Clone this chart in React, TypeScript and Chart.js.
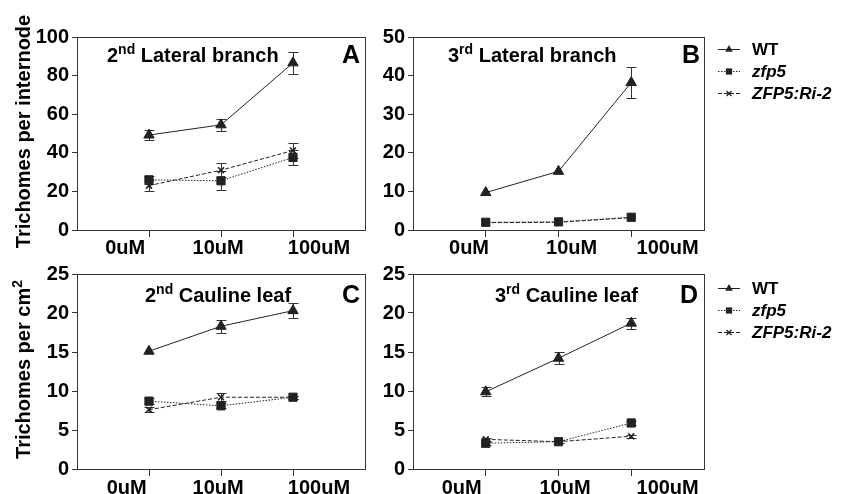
import React, { useEffect, useRef } from 'react';
import { Chart, registerables } from 'chart.js';
Chart.register(...registerables);

const FONT = '"Liberation Sans", Arial, Helvetica, sans-serif';
const INK = '#222';

// categories
const doseLabels = ['0uM', '10uM', '100uM'];
const doseX = [1, 2, 3];
const seriesNames = ['WT', 'zfp5', 'ZFP5:Ri-2'];

// Panel A: 2nd lateral branch
const aWT = [49.2, 54.5, 86.6];
const aWTErr = [2.8, 3.0, 5.6];
const aZfp5 = [26.0, 25.5, 37.6];
const aZfp5Err = [2.2, 5.0, 4.0];
const aRi = [23.0, 31.0, 41.2];
const aRiErr = [3.0, 3.5, 4.0];

// Panel B: 3rd lateral branch
const bWT = [9.7, 15.2, 38.2];
const bWTErr = [0, 0, 4.0];
const bZfp5 = [2.0, 2.1, 3.3];
const bZfp5Err = [0, 0, 0];
const bRi = [1.9, 2.0, 3.2];
const bRiErr = [0, 0, 0];

// Panel C: 2nd cauline leaf
const cWT = [15.1, 18.3, 20.3];
const cWTErr = [0, 0.8, 1.0];
const cZfp5 = [8.7, 8.1, 9.2];
const cZfp5Err = [0.4, 0.3, 0.2];
const cRi = [7.6, 9.2, 9.2];
const cRiErr = [0.3, 0.5, 0.2];

// Panel D: 3rd cauline leaf
const dWT = [9.9, 14.2, 18.7];
const dWTErr = [0.6, 0.8, 0.7];
const dZfp5 = [3.3, 3.5, 5.9];
const dZfp5Err = [0.2, 0.2, 0.3];
const dRi = [3.8, 3.5, 4.2];
const dRiErr = [0.2, 0.2, 0.2];

type Part = { t: string; sup?: boolean };

const styles = [
  { dash: [] as number[], point: 'triangle', radius: 6, bw: 1, italic: false },
  { dash: [1.5, 1.5], point: 'rect', radius: 5.8, bw: 1, italic: true },
  { dash: [4, 2], point: 'crossRot', radius: 4.2, bw: 1.6, italic: true },
];

type PanelCfg = {
  left: number; top: number; w: number; h: number;
  yAxisW: number; padTop: number; padRight: number; xAxisH: number;
  yMax: number; yStep: number;
  series: number[][]; errors: number[][];
  title: Part[]; titleX: number; titleBase: number;
  letter: string; letterRight: number;
  labelPos: number[]; labelBase: number;
  yTitle?: Part[];
  legend?: { x: number; ys: number[] };
};

const panels: PanelCfg[] = [
  {
    left: 0, top: 0, w: 380, h: 258, yAxisW: 77, padTop: 37, padRight: 15, xAxisH: 28,
    yMax: 100, yStep: 20,
    series: [aWT, aZfp5, aRi], errors: [aWTErr, aZfp5Err, aRiErr],
    title: [{ t: '2' }, { t: 'nd', sup: true }, { t: ' Lateral branch' }], titleX: 30, titleBase: 25,
    letter: 'A', letterRight: 5,
    labelPos: [0.67, 1.96, 3.36], labelBase: 24,
    yTitle: [{ t: 'Trichomes per internode' }],
  },
  {
    left: 380, top: 0, w: 472, h: 258, yAxisW: 33, padTop: 37, padRight: 148, xAxisH: 28,
    yMax: 50, yStep: 10,
    series: [bWT, bZfp5, bRi], errors: [bWTErr, bZfp5Err, bRiErr],
    title: [{ t: '3' }, { t: 'rd', sup: true }, { t: ' Lateral branch' }], titleX: 35, titleBase: 25,
    letter: 'B', letterRight: 4,
    labelPos: [0.77, 2.18, 3.5], labelBase: 24,
    legend: { x: 338, ys: [49, 71, 93] },
  },
  {
    left: 0, top: 258, w: 380, h: 236, yAxisW: 77, padTop: 16, padRight: 15, xAxisH: 25,
    yMax: 25, yStep: 5,
    series: [cWT, cZfp5, cRi], errors: [cWTErr, cZfp5Err, cRiErr],
    title: [{ t: '2' }, { t: 'nd', sup: true }, { t: ' Cauline leaf' }], titleX: 68, titleBase: 28,
    letter: 'C', letterRight: 5,
    labelPos: [0.69, 1.96, 3.36], labelBase: 25,
    yTitle: [{ t: 'Trichomes per cm' }, { t: '2', sup: true }],
  },
  {
    left: 380, top: 258, w: 472, h: 236, yAxisW: 33, padTop: 16, padRight: 148, xAxisH: 25,
    yMax: 25, yStep: 5,
    series: [dWT, dZfp5, dRi], errors: [dWTErr, dZfp5Err, dRiErr],
    title: [{ t: '3' }, { t: 'rd', sup: true }, { t: ' Cauline leaf' }], titleX: 82, titleBase: 28,
    letter: 'D', letterRight: 6,
    labelPos: [0.67, 2.09, 3.5], labelBase: 25,
    legend: { x: 338, ys: [30, 52, 74] },
  },
];

function richWidth(ctx: CanvasRenderingContext2D, parts: Part[], size: number) {
  let w = 0;
  for (const p of parts) {
    const s = p.sup ? Math.round(size * 0.68) : size;
    ctx.font = `bold ${s}px ${FONT}`;
    w += ctx.measureText(p.t).width;
  }
  return w;
}

function drawRich(ctx: CanvasRenderingContext2D, parts: Part[], x: number, y: number, size: number) {
  let cx = x;
  for (const p of parts) {
    const s = p.sup ? Math.round(size * 0.68) : size;
    ctx.font = `bold ${s}px ${FONT}`;
    ctx.fillText(p.t, cx, p.sup ? y - size * 0.42 : y);
    cx += ctx.measureText(p.t).width;
  }
}

function drawMarker(ctx: CanvasRenderingContext2D, kind: string, x: number, y: number, r: number) {
  ctx.beginPath();
  if (kind === 'triangle') {
    const h = r * 1.5;
    const half = r * 0.866;
    ctx.moveTo(x, y - r);
    ctx.lineTo(x + half, y - r + h);
    ctx.lineTo(x - half, y - r + h);
    ctx.closePath();
    ctx.fill();
  } else if (kind === 'rect') {
    const s = r * 0.707;
    ctx.rect(x - s, y - s, 2 * s, 2 * s);
    ctx.fill();
  } else {
    const s = r * 0.707;
    ctx.moveTo(x - s, y - s); ctx.lineTo(x + s, y + s);
    ctx.moveTo(x + s, y - s); ctx.lineTo(x - s, y + s);
    ctx.lineWidth = 1.3;
    ctx.stroke();
  }
}

function PanelChart({ cfg }: { cfg: PanelCfg }) {
  const ref = useRef<HTMLCanvasElement | null>(null);
  useEffect(() => {
    if (!ref.current) return;
    const decor = {
      id: 'decor',
      beforeDatasetsDraw(chart: any) {
        const ctx = chart.ctx as CanvasRenderingContext2D;
        const xs = chart.scales.x, ys = chart.scales.y;
        ctx.save();
        ctx.strokeStyle = '#333';
        ctx.lineWidth = 1;
        cfg.series.forEach((vals, i) => {
          vals.forEach((v, j) => {
            const e = cfg.errors[i][j];
            if (!e) return;
            const X = Math.round(xs.getPixelForValue(doseX[j])) + 0.5;
            const t = Math.round(ys.getPixelForValue(v + e)) + 0.5;
            const b = Math.round(ys.getPixelForValue(Math.max(0, v - e))) + 0.5;
            ctx.beginPath();
            ctx.moveTo(X, t); ctx.lineTo(X, b);
            ctx.moveTo(X - 5, t); ctx.lineTo(X + 5, t);
            ctx.moveTo(X - 5, b); ctx.lineTo(X + 5, b);
            ctx.stroke();
          });
        });
        ctx.restore();
      },
      afterDraw(chart: any) {
        const ctx = chart.ctx as CanvasRenderingContext2D;
        const ca = chart.chartArea;
        const xs = chart.scales.x;
        ctx.save();
        // frame
        ctx.strokeStyle = '#333';
        ctx.lineWidth = 1;
        ctx.strokeRect(Math.round(ca.left) + 0.5, Math.round(ca.top) + 0.5,
          Math.round(ca.right - ca.left), Math.round(ca.bottom - ca.top));
        ctx.fillStyle = '#000';
        ctx.textBaseline = 'alphabetic';
        ctx.textAlign = 'left';
        // panel title
        drawRich(ctx, cfg.title, ca.left + cfg.titleX, ca.top + cfg.titleBase, 20);
        // letter
        ctx.font = `bold 25px ${FONT}`;
        ctx.textAlign = 'right';
        ctx.fillText(cfg.letter, ca.right - cfg.letterRight, ca.top + cfg.titleBase + 0.5);
        // x labels
        ctx.font = `bold 20px ${FONT}`;
        ctx.textAlign = 'center';
        doseLabels.forEach((lab, i) => {
          ctx.fillText(lab, xs.getPixelForValue(cfg.labelPos[i]), ca.bottom + cfg.labelBase);
        });
        // y title
        if (cfg.yTitle) {
          const w = richWidth(ctx, cfg.yTitle, 20);
          ctx.save();
          ctx.translate(30, (ca.top + ca.bottom) / 2 - 2);
          ctx.rotate(-Math.PI / 2);
          ctx.textAlign = 'left';
          drawRich(ctx, cfg.yTitle, -w / 2, 0, 20);
          ctx.restore();
        }
        // legend
        if (cfg.legend) {
          const lx = cfg.legend.x;
          seriesNames.forEach((name, i) => {
            const y = cfg.legend!.ys[i];
            const st = styles[i];
            ctx.save();
            ctx.strokeStyle = INK;
            ctx.fillStyle = INK;
            ctx.lineWidth = 1;
            ctx.setLineDash(st.dash);
            ctx.beginPath();
            ctx.moveTo(lx, Math.round(y) + 0.5);
            ctx.lineTo(lx + 22, Math.round(y) + 0.5);
            ctx.stroke();
            ctx.setLineDash([]);
            drawMarker(ctx, st.point, lx + 11, y + 0.5, st.point === 'crossRot' ? 3.5 : 4.4);
            ctx.restore();
            ctx.fillStyle = '#000';
            ctx.textAlign = 'left';
            ctx.textBaseline = 'middle';
            ctx.font = `${st.italic ? 'italic ' : ''}bold 17px ${FONT}`;
            ctx.fillText(name, lx + 34, y + 1);
          });
        }
        ctx.restore();
      },
    };

    const chart = new Chart(ref.current, {
      type: 'line',
      data: {
        datasets: cfg.series.map((vals, i) => ({
          label: seriesNames[i],
          data: vals.map((v, j) => ({ x: doseX[j], y: v })),
          borderColor: INK,
          backgroundColor: INK,
          borderWidth: 1,
          borderDash: styles[i].dash,
          pointStyle: styles[i].point as any,
          pointRadius: styles[i].radius,
          pointBorderWidth: styles[i].bw,
          pointBorderColor: INK,
          pointBackgroundColor: INK,
          fill: false,
          tension: 0,
        })),
      },
      options: {
        animation: false,
        responsive: false,
        devicePixelRatio: 1,
        layout: { padding: { left: 0, top: cfg.padTop, right: cfg.padRight, bottom: 0 } },
        plugins: {
          legend: { display: false },
          tooltip: { enabled: false },
          title: { display: false },
        },
        scales: {
          x: {
            type: 'linear',
            min: 0,
            max: 4,
            ticks: { display: false },
            grid: { drawOnChartArea: false, drawTicks: true, tickLength: 7, color: '#333' },
            border: { display: true, color: '#333' },
            afterBuildTicks: (s: any) => { s.ticks = doseX.map((v) => ({ value: v })); },
            afterFit: (s: any) => { s.height = cfg.xAxisH; },
          },
          y: {
            type: 'linear',
            min: 0,
            max: cfg.yMax,
            ticks: {
              stepSize: cfg.yStep,
              color: '#000',
              padding: 3,
              font: { family: FONT, size: 20, weight: 'bold' },
            },
            grid: { drawOnChartArea: false, drawTicks: true, tickLength: 5, color: '#333' },
            border: { display: true, color: '#333' },
            afterFit: (s: any) => { s.width = cfg.yAxisW; },
          },
        },
      } as any,
      plugins: [decor],
    });
    return () => chart.destroy();
  }, [cfg]);

  return (
    <canvas
      ref={ref}
      width={cfg.w}
      height={cfg.h}
      style={{ position: 'absolute', left: cfg.left, top: cfg.top, width: cfg.w, height: cfg.h }}
    />
  );
}

export default function App() {
  return (
    <div style={{ position: 'absolute', left: 0, top: 0, width: 852, height: 494, background: '#fff', overflow: 'hidden' }}>
      {panels.map((p, i) => (
        <PanelChart key={i} cfg={p} />
      ))}
    </div>
  );
}
